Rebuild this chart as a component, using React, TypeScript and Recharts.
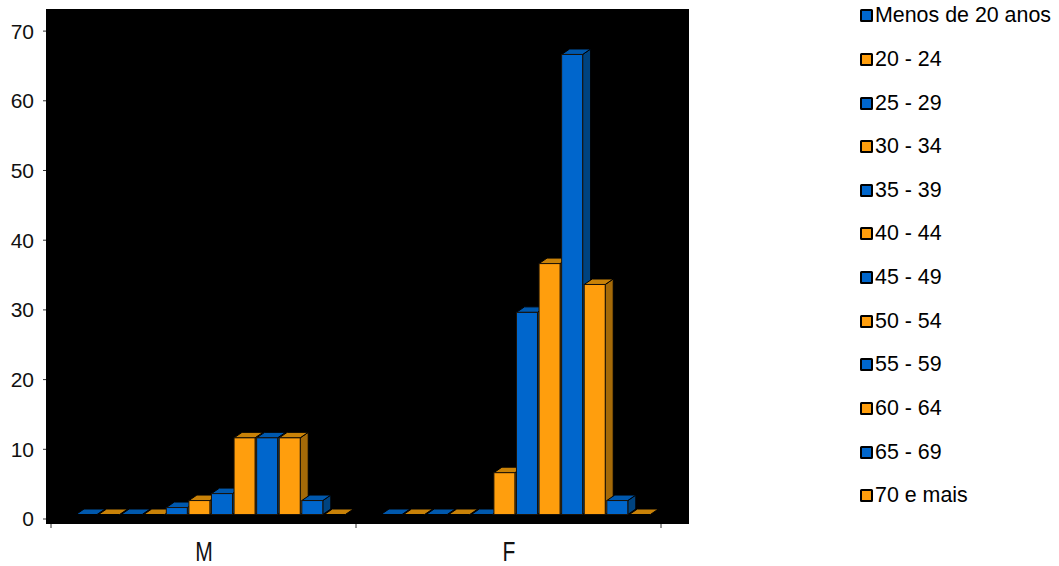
import React from "react";
import { BarChart, Bar, XAxis, YAxis, CartesianGrid, Legend } from "recharts";

const categories = ["M", "F"];
const yTicks = [0, 10, 20, 30, 40, 50, 60, 70];
const ageGroups = ["Menos de 20 anos", "20 - 24", "25 - 29", "30 - 34", "35 - 39", "40 - 44", "45 - 49", "50 - 54", "55 - 59", "60 - 64", "65 - 69", "70 e mais"];
const maleValues = [0, 0, 0, 0, 1, 2, 3, 11, 11, 11, 2, 0];
const femaleValues = [0, 0, 0, 0, 0, 6, 29, 36, 66, 33, 2, 0];

const BLUE = { front: "#0066CC", top: "#0058AD", side: "#00437F" };
const ORANGE = { front: "#FF9E0D", top: "#C98208", side: "#A56A08" };

const data = categories.map((name, c) => {
  const row: Record<string, string | number> = { name };
  ageGroups.forEach((g, i) => {
    row[g] = (c === 0 ? maleValues : femaleValues)[i];
  });
  return row;
});

const DX = 8;
const DEPTH_X = 8;
const DEPTH_Y = 5.5;
const LIFT = 4.5;

function Box3D(props: any) {
  const { x, y, height, palette } = props;
  const w = 21;
  const l = x + DX;
  const r = l + w;
  const t = y - LIFT;
  const h = Math.max(0, height);
  const b = t + h;
  const stroke = "#1a1208";
  const top = `${l},${t} ${l + DEPTH_X},${t - DEPTH_Y} ${r + DEPTH_X},${t - DEPTH_Y} ${r},${t}`;
  const side = `${r},${t} ${r + DEPTH_X},${t - DEPTH_Y} ${r + DEPTH_X},${b - DEPTH_Y} ${r},${b}`;
  return (
    <g>
      {h > 0 && <polygon points={side} fill={palette.side} stroke="#000" strokeWidth={1} />}
      <polygon points={top} fill={palette.top} stroke="#000" strokeWidth={1} />
      {h > 0 && <rect x={l} y={t} width={w} height={h} fill={palette.front} stroke={stroke} strokeWidth={1} />}
    </g>
  );
}

function CategoryTick(props: any) {
  const { x, payload, index } = props;
  const half = 152.5;
  const base = 524;
  return (
    <g>
      <line x1={x - half} x2={x - half} y1={base} y2={base + 4} stroke="#333" />
      {index === categories.length - 1 && <line x1={x + half} x2={x + half} y1={base} y2={base + 4} stroke="#333" />}
      <text
        transform={`translate(${x + 0.5},561) scale(0.78,1)`}
        textAnchor="middle"
        fontFamily="'Liberation Sans', Arial, sans-serif"
        fontSize={27}
        fill="#111"
      >
        {payload.value}
      </text>
    </g>
  );
}

function LegendList(props: any) {
  const payload = props.payload || [];
  return (
    <div style={{ fontFamily: "'Liberation Sans', Arial, sans-serif", fontSize: 21.4, color: "#000", width: 199 }}>
      {payload.map((p: any) => (
        <div key={p.value} style={{ height: 43.64, display: "flex", alignItems: "center", whiteSpace: "nowrap" }}>
          <span style={{ display: "inline-block", boxSizing: "border-box", width: 13, height: 13, border: "2px solid #000", borderRadius: 1.5, background: p.color, marginRight: 2 }} />
          <span>{p.value}</span>
        </div>
      ))}
    </div>
  );
}

export default function App() {
  return (
    <div style={{ position: "absolute", left: 0, top: 0, width: 1059, height: 566 }}>
      <BarChart
        width={1059}
        height={566}
        data={data}
        margin={{ top: 9, right: 370, bottom: 0, left: 0 }}
        barCategoryGap={17}
        barGap={0.58}
      >
        <CartesianGrid horizontal={false} vertical={false} fill="#000" />
        <XAxis
          dataKey="name"
          height={42}
          padding={{ left: 5, right: 28 }}
          axisLine={false}
          tickLine={false}
          tick={<CategoryTick />}
          interval={0}
        />
        <YAxis
          type="number"
          width={46}
          domain={[-0.717, 73.17]}
          allowDataOverflow
          ticks={yTicks}
          interval={0}
          axisLine={false}
          tickLine={{ stroke: "#333" }}
          tickSize={3}
          tickMargin={9}
          tick={{ fontFamily: "'Liberation Sans', Arial, sans-serif", fontSize: 21, fill: "#111" }}
        />
        <Legend
          layout="vertical"
          verticalAlign="middle"
          align="center"
          itemSorter={null}
          content={<LegendList />}
          wrapperStyle={{ left: 860, top: -6, width: 199, bottom: "auto" }}
        />
        {ageGroups.map((g, i) => {
          const palette = i % 2 === 0 ? BLUE : ORANGE;
          return (
            <Bar
              key={g}
              dataKey={g}
              name={g}
              fill={palette.front}
              isAnimationActive={false}
              shape={(p: any) => <Box3D {...p} palette={palette} />}
            />
          );
        })}
      </BarChart>
    </div>
  );
}
